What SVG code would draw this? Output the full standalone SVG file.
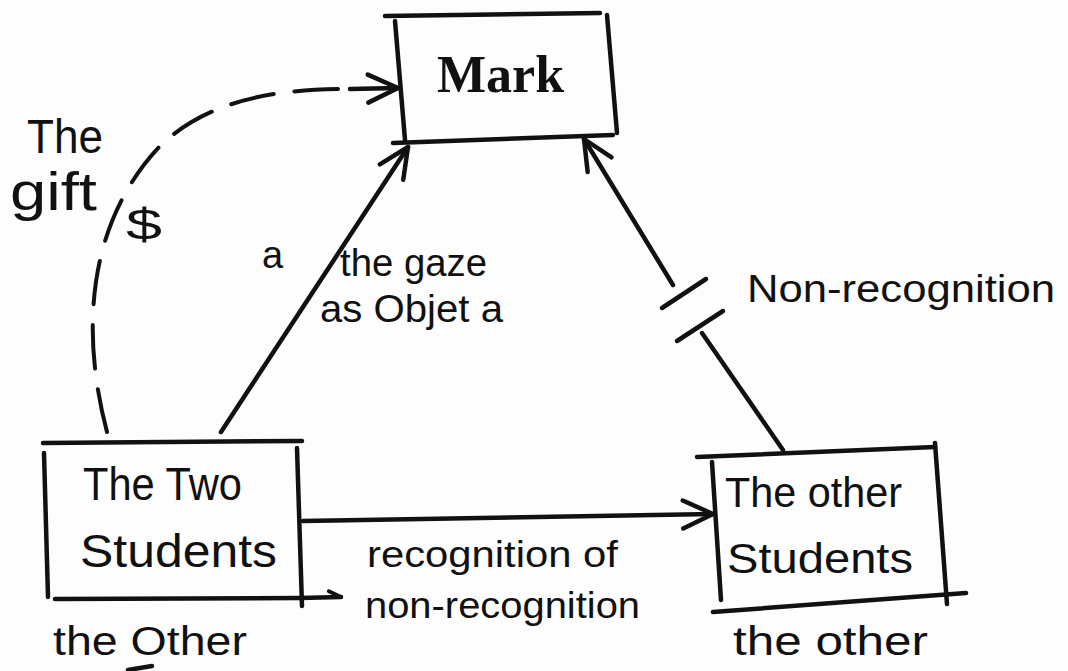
<svg xmlns="http://www.w3.org/2000/svg" width="1068" height="671" viewBox="0 0 1068 671">
<defs>
<style>
.ln{fill:none;stroke:#111;stroke-width:4.5;stroke-linecap:round;stroke-linejoin:round}
.dash{fill:none;stroke:#111;stroke-width:4;stroke-linecap:round;stroke-dasharray:42 20}
.hw{font-family:"Liberation Sans","DejaVu Sans",sans-serif;fill:#111}
.mark{font-family:"Liberation Serif","Times New Roman",serif;font-weight:bold;font-size:52px;fill:#111}
</style>
<marker id="ah" markerUnits="userSpaceOnUse" markerWidth="40" markerHeight="40" viewBox="-34 -20 38 40" refX="0" refY="0" orient="auto">
<path d="M-30,-14 L0,0 L-30,14" fill="none" stroke="#111" stroke-width="4.5" stroke-linecap="round" stroke-linejoin="round"/>
</marker>
<marker id="ahs" markerUnits="userSpaceOnUse" markerWidth="20" markerHeight="20" viewBox="-16 -10 20 20" refX="0" refY="0" orient="auto">
<path d="M-12,-6 L0,0" fill="none" stroke="#111" stroke-width="4" stroke-linecap="round"/>
</marker>
</defs>
<rect width="1068" height="671" fill="#fdfdfd"/>

<g id="connectors">
<path class="dash" pathLength="476" d="M107,432 C80,330 88,222 160,146 C210,98 280,90 338,89"/>
<path class="ln" d="M350,89 L398,88" marker-end="url(#ah)"/>
<path class="ln" d="M221,432 L408,147" marker-end="url(#ah)"/>
<path class="ln" d="M673,285 L584,139" marker-end="url(#ah)"/>
<path class="ln" d="M702,333 L783,450"/>
<path class="ln" d="M662,308 L706,279"/>
<path class="ln" d="M677,341 L723,311"/>
<path class="ln" d="M303,521 L713,514" marker-end="url(#ah)"/>
<path class="ln" d="M300,598 L341,597" marker-end="url(#ahs)"/>
</g>

<g id="mark">
<path class="ln" d="M385,16 L600,13"/>
<path class="ln" d="M607,15 L617,133"/>
<path class="ln" d="M395,21 L405,140"/>
<path class="ln" d="M393,143 L613,135"/>
<text class="mark" x="437" y="92">Mark</text>
</g>

<g id="two-students">
<path class="ln" d="M43,443 L302,441"/>
<path class="ln" d="M44,453 L48,597"/>
<path class="ln" d="M55,599 L300,598"/>
<path class="ln" d="M297,448 L302,606"/>
<text class="hw" x="83" y="500" font-size="46" textLength="159" lengthAdjust="spacingAndGlyphs">The Two</text>
<text class="hw" x="80" y="567" font-size="46" textLength="197" lengthAdjust="spacingAndGlyphs">Students</text>
</g>

<g id="other-students">
<path class="ln" d="M697,457 L935,447"/>
<path class="ln" d="M712,462 L721,600"/>
<path class="ln" d="M935,443 L947,604"/>
<path class="ln" d="M713,612 L966,593"/>
<text class="hw" x="725" y="507" font-size="42" textLength="177" lengthAdjust="spacingAndGlyphs">The other</text>
<text class="hw" x="727" y="573" font-size="42" textLength="186" lengthAdjust="spacingAndGlyphs">Students</text>
</g>

<g id="labels">
<text class="hw" x="27" y="153" font-size="48" textLength="76" lengthAdjust="spacingAndGlyphs">The</text>
<text class="hw" x="10" y="210" font-size="54" textLength="87" lengthAdjust="spacingAndGlyphs">gift</text>
<text class="hw" x="126" y="240" font-size="44" textLength="36" lengthAdjust="spacingAndGlyphs">$</text>
<text class="hw" x="262" y="268" font-size="38">a</text>
<text class="hw" x="340" y="276" font-size="38" textLength="147" lengthAdjust="spacingAndGlyphs">the gaze</text>
<text class="hw" x="320" y="322" font-size="38" textLength="183" lengthAdjust="spacingAndGlyphs">as Objet a</text>
<text class="hw" x="747" y="302" font-size="38" textLength="308" lengthAdjust="spacingAndGlyphs">Non-recognition</text>
<text class="hw" x="367" y="567" font-size="37" textLength="251" lengthAdjust="spacingAndGlyphs">recognition of</text>
<text class="hw" x="365" y="618" font-size="37" textLength="275" lengthAdjust="spacingAndGlyphs">non-recognition</text>
<text class="hw" x="53" y="655" font-size="40" textLength="194" lengthAdjust="spacingAndGlyphs">the Other</text>
<text class="hw" x="733" y="655" font-size="40" textLength="195" lengthAdjust="spacingAndGlyphs">the other</text>
<path class="ln" d="M128,670 L152,666"/>
</g>
</svg>
